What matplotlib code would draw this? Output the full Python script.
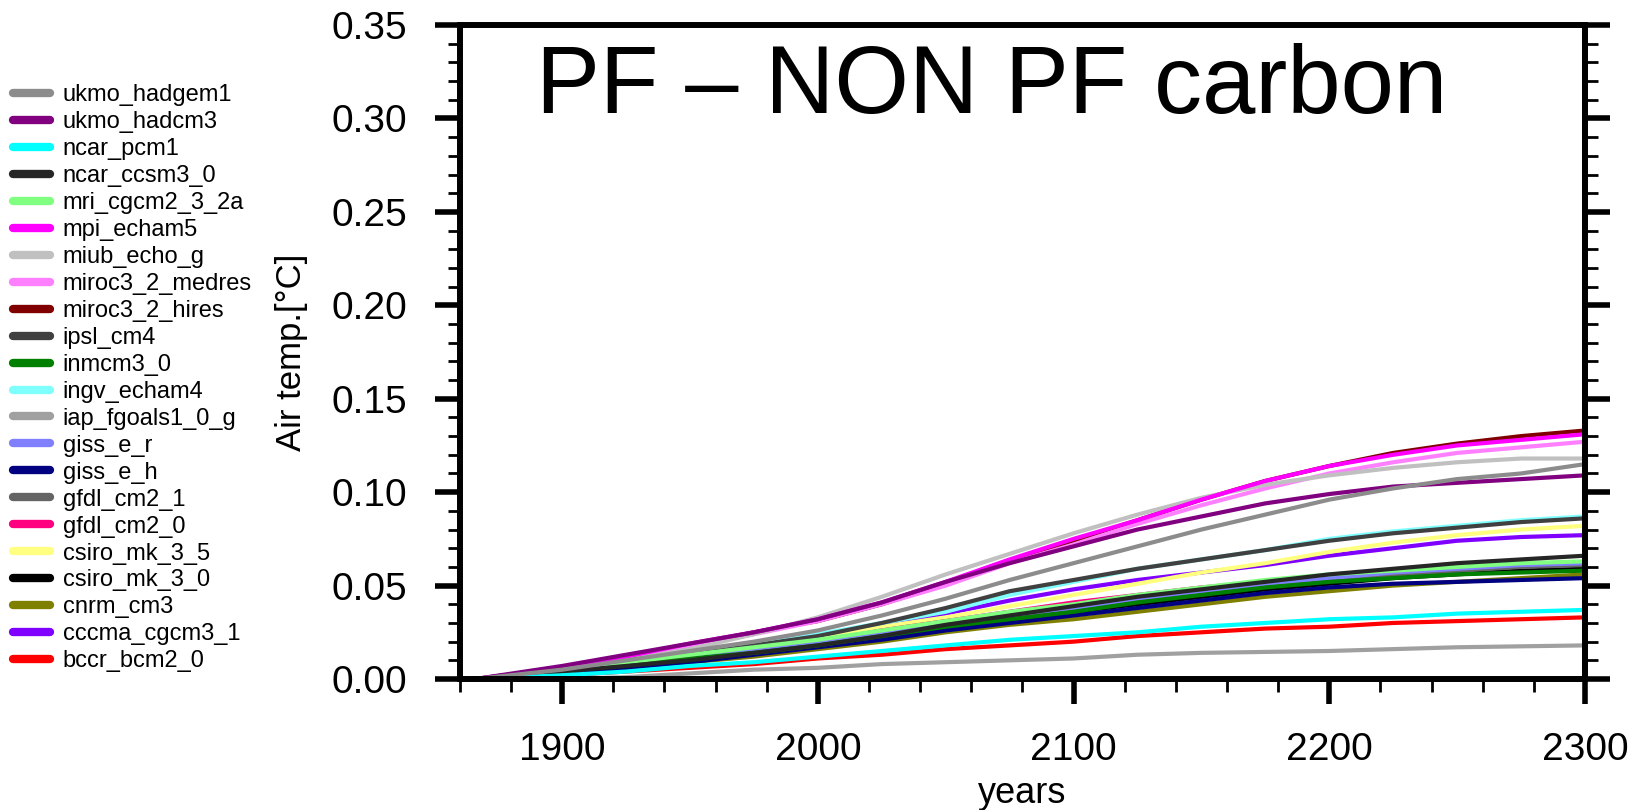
import matplotlib
matplotlib.use('Agg')
import matplotlib.pyplot as plt
from matplotlib.ticker import MultipleLocator

plt.rcParams['font.family'] = ['Liberation Sans', 'DejaVu Sans']

years = [1866, 1900, 1925, 1950, 1975, 2000, 2025, 2050, 2075,
         2100, 2125, 2150, 2175, 2200, 2225, 2250, 2275, 2300]

# PF - NON PF carbon air temperature difference (degC), one list per model
ukmo_hadgem1    = [0, 0.005, 0.010, 0.015, 0.020, 0.026, 0.034, 0.043, 0.053,
                   0.062, 0.071, 0.080, 0.088, 0.096, 0.102, 0.107, 0.110, 0.115]
ukmo_hadcm3     = [0, 0.007, 0.013, 0.019, 0.025, 0.032, 0.041, 0.052, 0.062,
                   0.071, 0.080, 0.087, 0.094, 0.099, 0.103, 0.105, 0.107, 0.109]
ncar_pcm1       = [0, 0.002, 0.004, 0.007, 0.009, 0.012, 0.015, 0.018, 0.021,
                   0.023, 0.025, 0.028, 0.030, 0.032, 0.033, 0.035, 0.036, 0.037]
ncar_ccsm3_0    = [0, 0.004, 0.007, 0.010, 0.014, 0.018, 0.023, 0.029, 0.034,
                   0.039, 0.044, 0.048, 0.052, 0.056, 0.059, 0.062, 0.064, 0.066]
mri_cgcm2_3_2a  = [0, 0.005, 0.009, 0.013, 0.017, 0.021, 0.026, 0.031, 0.036,
                   0.040, 0.045, 0.049, 0.053, 0.056, 0.058, 0.060, 0.062, 0.063]
mpi_echam5      = [0, 0.006, 0.012, 0.019, 0.025, 0.032, 0.041, 0.052, 0.064,
                   0.075, 0.085, 0.096, 0.106, 0.114, 0.120, 0.125, 0.128, 0.131]
miub_echo_g     = [0, 0.004, 0.010, 0.016, 0.024, 0.033, 0.044, 0.056, 0.067,
                   0.078, 0.088, 0.097, 0.104, 0.109, 0.113, 0.116, 0.118, 0.118]
miroc3_2_medres = [0, 0.006, 0.012, 0.018, 0.024, 0.031, 0.040, 0.050, 0.062,
                   0.072, 0.083, 0.093, 0.102, 0.110, 0.116, 0.121, 0.124, 0.127]
miroc3_2_hires  = [0, 0.006, 0.012, 0.018, 0.025, 0.031, 0.040, 0.051, 0.063,
                   0.074, 0.085, 0.096, 0.106, 0.114, 0.121, 0.126, 0.130, 0.133]
ipsl_cm4        = [0, 0.004, 0.009, 0.013, 0.018, 0.023, 0.030, 0.038, 0.047,
                   0.053, 0.059, 0.064, 0.069, 0.074, 0.078, 0.081, 0.084, 0.086]
inmcm3_0        = [0, 0.004, 0.008, 0.011, 0.014, 0.018, 0.023, 0.028, 0.032,
                   0.036, 0.041, 0.045, 0.049, 0.052, 0.054, 0.056, 0.057, 0.058]
ingv_echam4     = [0, 0.004, 0.009, 0.014, 0.019, 0.024, 0.030, 0.036, 0.045,
                   0.052, 0.059, 0.064, 0.069, 0.075, 0.079, 0.082, 0.085, 0.087]
iap_fgoals1_0_g = [0, 0.000, 0.001, 0.003, 0.005, 0.006, 0.008, 0.009, 0.010,
                   0.011, 0.013, 0.014, 0.0145, 0.015, 0.016, 0.017, 0.0175, 0.018]
giss_e_r        = [0, 0.004, 0.008, 0.011, 0.015, 0.019, 0.024, 0.029, 0.034,
                   0.038, 0.043, 0.047, 0.051, 0.054, 0.057, 0.059, 0.061, 0.062]
giss_e_h        = [0, 0.003, 0.006, 0.009, 0.013, 0.017, 0.021, 0.026, 0.030,
                   0.034, 0.038, 0.042, 0.046, 0.049, 0.051, 0.052, 0.053, 0.054]
gfdl_cm2_1      = [0, 0.004, 0.008, 0.011, 0.015, 0.019, 0.024, 0.029, 0.034,
                   0.038, 0.042, 0.046, 0.050, 0.053, 0.056, 0.058, 0.060, 0.061]
gfdl_cm2_0      = [0, 0.004, 0.008, 0.012, 0.016, 0.020, 0.026, 0.031, 0.036,
                   0.041, 0.045, 0.049, 0.052, 0.055, 0.057, 0.059, 0.061, 0.062]
csiro_mk_3_5    = [0, 0.004, 0.009, 0.013, 0.017, 0.022, 0.028, 0.033, 0.039,
                   0.045, 0.051, 0.057, 0.062, 0.068, 0.073, 0.077, 0.080, 0.082]
csiro_mk_3_0    = [0, 0.004, 0.007, 0.010, 0.014, 0.018, 0.022, 0.027, 0.032,
                   0.036, 0.040, 0.044, 0.048, 0.051, 0.054, 0.056, 0.058, 0.059]
cnrm_cm3        = [0, 0.003, 0.006, 0.009, 0.012, 0.016, 0.020, 0.025, 0.029,
                   0.032, 0.036, 0.040, 0.044, 0.047, 0.050, 0.052, 0.054, 0.056]
cccma_cgcm3_1   = [0, 0.004, 0.009, 0.013, 0.018, 0.023, 0.029, 0.035, 0.042,
                   0.048, 0.053, 0.057, 0.061, 0.066, 0.070, 0.074, 0.076, 0.077]
bccr_bcm2_0     = [0, 0.002, 0.004, 0.006, 0.008, 0.011, 0.013, 0.016, 0.018,
                   0.020, 0.023, 0.025, 0.027, 0.028, 0.030, 0.031, 0.032, 0.033]

# legend order (top to bottom)
names = ['ukmo_hadgem1', 'ukmo_hadcm3', 'ncar_pcm1', 'ncar_ccsm3_0', 'mri_cgcm2_3_2a',
         'mpi_echam5', 'miub_echo_g', 'miroc3_2_medres', 'miroc3_2_hires', 'ipsl_cm4',
         'inmcm3_0', 'ingv_echam4', 'iap_fgoals1_0_g', 'giss_e_r', 'giss_e_h',
         'gfdl_cm2_1', 'gfdl_cm2_0', 'csiro_mk_3_5', 'csiro_mk_3_0', 'cnrm_cm3',
         'cccma_cgcm3_1', 'bccr_bcm2_0']
series = [ukmo_hadgem1, ukmo_hadcm3, ncar_pcm1, ncar_ccsm3_0, mri_cgcm2_3_2a,
          mpi_echam5, miub_echo_g, miroc3_2_medres, miroc3_2_hires, ipsl_cm4,
          inmcm3_0, ingv_echam4, iap_fgoals1_0_g, giss_e_r, giss_e_h,
          gfdl_cm2_1, gfdl_cm2_0, csiro_mk_3_5, csiro_mk_3_0, cnrm_cm3,
          cccma_cgcm3_1, bccr_bcm2_0]
colors = ['#8c8c8c', '#800080', '#00ffff', '#262626', '#80ff80',
          '#ff00ff', '#c0c0c0', '#ff80ff', '#800000', '#404040',
          '#008000', '#80ffff', '#a0a0a0', '#8080ff', '#000080',
          '#646464', '#ff0080', '#ffff80', '#000000', '#808000',
          '#8000ff', '#ff0000']

fig = plt.figure(figsize=(16.38, 8.10), dpi=100)
ax = fig.add_axes([0.2808, 0.1617, 0.6868, 0.8074])

handles = {}
# drawn bottom of legend first so ukmo runs end up on top
for name, vals, col in reversed(list(zip(names, series, colors))):
    line, = ax.plot(years, vals, color=col, lw=3.0, solid_joinstyle='round')
    handles[name] = line

ax.set_xlim(1860, 2300)
ax.set_ylim(0, 0.35)
ax.set_xticks([1900, 2000, 2100, 2200, 2300])
ax.xaxis.set_minor_locator(MultipleLocator(20))
ax.set_yticks([0.0, 0.05, 0.10, 0.15, 0.20, 0.25, 0.30, 0.35])
ax.set_yticklabels(['0.00', '0.05', '0.10', '0.15', '0.20', '0.25', '0.30', '0.35'])
ax.yaxis.set_minor_locator(MultipleLocator(0.01))

for sp in ax.spines.values():
    sp.set_linewidth(4.3)
ax.tick_params(which='major', direction='out', length=18, width=4, labelsize=28, pad=20,
               left=True, right=True, top=False, bottom=True)
ax.tick_params(which='minor', direction='out', length=9, width=2,
               left=True, right=True, top=False, bottom=True)

ax.set_xlabel('years', fontsize=26)
ax.xaxis.set_label_coords(0.5, -0.149)
ax.set_ylabel('Air temp.[°C]', fontsize=25)
ax.yaxis.set_label_coords(-0.135, 0.5)

ax.text(0.4724, 0.866, 'PF \u2013 NON PF carbon', transform=ax.transAxes,
        fontsize=69, ha='center', va='baseline')

leg = fig.legend([handles[n] for n in names], names, loc='upper left',
                 bbox_to_anchor=(0.0079, 0.896), frameon=False, fontsize=17,
                 labelspacing=0.21, handlelength=1.56, handletextpad=0.55,
                 borderpad=0, borderaxespad=0)
for h in leg.legend_handles:
    h.set_linewidth(6)
    h.set_solid_capstyle('round')

fig.savefig('out.png', dpi=100)
